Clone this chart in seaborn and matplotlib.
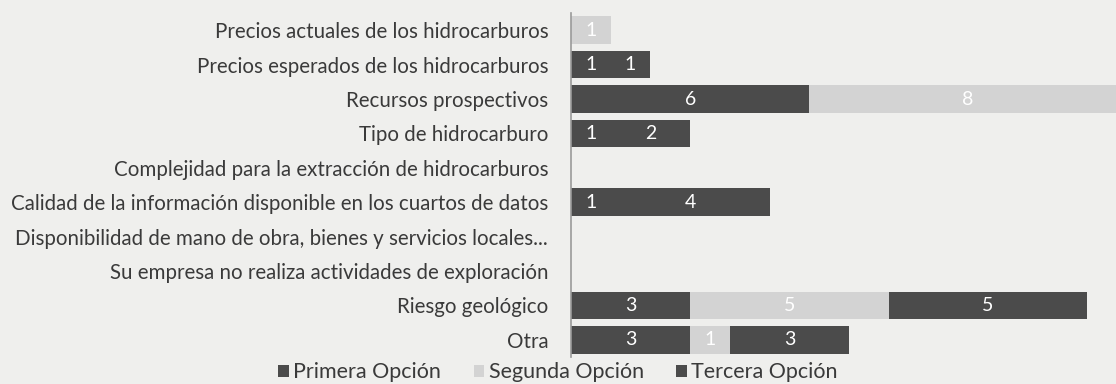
import matplotlib
matplotlib.use("Agg")
import matplotlib.pyplot as plt
from matplotlib.patches import Patch
import numpy as np
import pandas as pd
import seaborn as sns

categorias = [
    "Precios actuales de los hidrocarburos",
    "Precios esperados de los hidrocarburos",
    "Recursos prospectivos",
    "Tipo de hidrocarburo",
    "Complejidad para la extracción de hidrocarburos",
    "Calidad de la información disponible en los cuartos de datos",
    "Disponibilidad de mano de obra, bienes y servicios locales...",
    "Su empresa no realiza actividades de exploración",
    "Riesgo geológico",
    "Otra",
]
primera = [0, 1, 6, 1, 0, 1, 0, 0, 3, 3]
segunda = [1, 0, 8, 0, 0, 0, 0, 0, 5, 1]
tercera = [0, 1, 0, 2, 0, 4, 0, 0, 5, 3]
series = ["Primera Opción", "Segunda Opción", "Tercera Opción"]

oscuro = "#4b4b4b"
claro = "#d3d3d3"
fondo = "#efefed"
texto = "#3a3a3a"

sns.set_theme(style="white")
plt.rcParams["font.family"] = ["Lato", "DejaVu Sans"]

df = pd.DataFrame({
    "categoria": categorias,
    "p": primera,
    "s": segunda,
    "t": tercera,
})
df["c1"] = df["p"]
df["c2"] = df["p"] + df["s"]
df["c3"] = df["p"] + df["s"] + df["t"]

fig = plt.figure(figsize=(11.16, 3.84), dpi=100, facecolor=fondo)
ax = fig.add_axes([0.5117, 0.0703, 0.4883, 0.8957])
ax.set_facecolor(fondo)

# stacked bars: draw cumulative totals from the outermost layer inwards
for col, color in [("c3", oscuro), ("c2", claro), ("c1", oscuro)]:
    sns.barplot(data=df, x=col, y="categoria", orient="h", color=color,
                width=0.8, saturation=1, ax=ax, edgecolor="none")

ax.set_xlim(0, 13.73)
ax.set_ylim(9.5, -0.5)
ax.set_xlabel("")
ax.set_ylabel("")
ax.set_xticks([])
for s in ["top", "right", "bottom"]:
    ax.spines[s].set_visible(False)
ax.spines["left"].set_color("#9a9a9a")
ax.spines["left"].set_linewidth(1.2)
ax.tick_params(axis="y", length=0, pad=16.5, labelsize=14.8, labelcolor=texto)

# value labels centred in each segment
for i in range(len(categorias)):
    start = 0
    for val in (primera[i], segunda[i], tercera[i]):
        if val > 0:
            ax.text(start + val / 2, i, str(val), ha="center", va="center",
                    color="white", fontsize=14, clip_on=True)
        start += val

handles = [Patch(facecolor=oscuro, edgecolor="none"),
           Patch(facecolor=claro, edgecolor="none"),
           Patch(facecolor=oscuro, edgecolor="none")]
fig.legend(handles, series, loc="center", bbox_to_anchor=(0.5, 0.03),
           ncol=3, frameon=False, fontsize=15.5, handlelength=0.5,
           handleheight=0.5, handletextpad=0.2, columnspacing=1.5,
           labelcolor=texto)

fig.savefig("out.png", dpi=100, facecolor=fondo)
